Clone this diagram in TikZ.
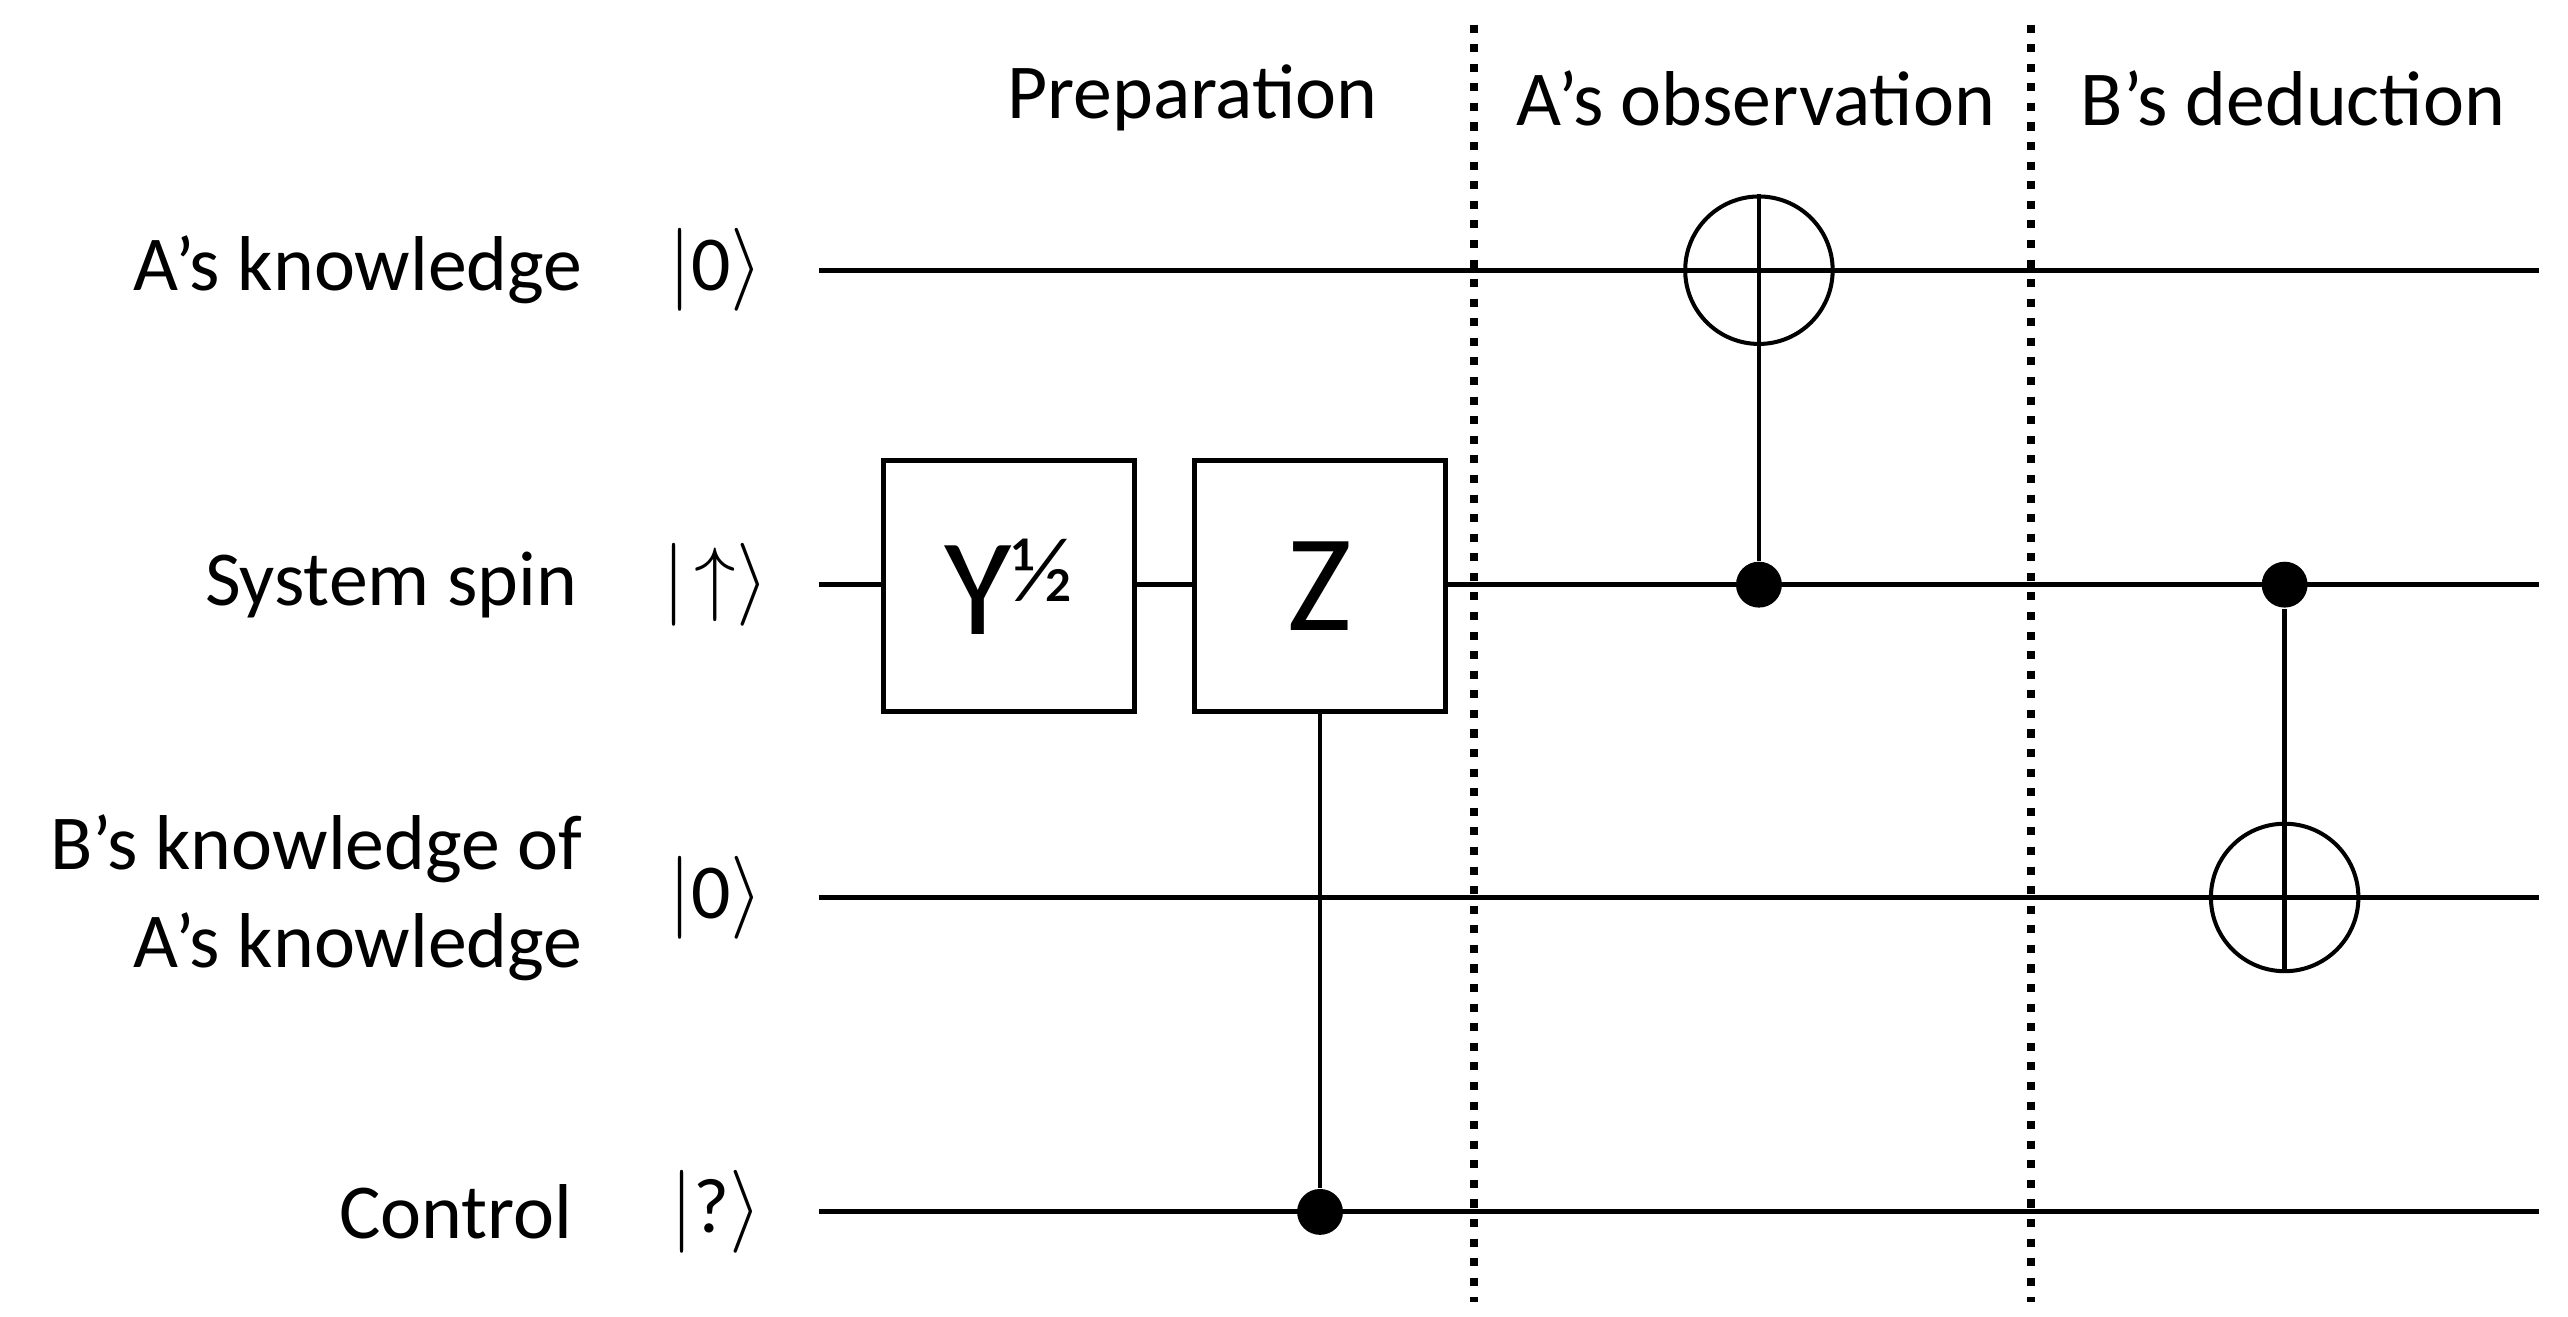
\documentclass[tikz,border=0pt]{standalone}
\usepackage{fontspec}
\setmainfont{Carlito}
\begin{document}
\begin{tikzpicture}[x=0.01cm,y=-0.01cm,
  wire/.style={line width=0.85pt},
  gate/.style={draw,line width=0.85pt,fill=white,minimum size=1.53cm,inner sep=0pt,font=\fontsize{24}{26}\selectfont},
  ctrl/.style={circle,fill=black,minimum size=0.28cm,inner sep=0pt},
  targ/.style={circle,draw,line width=0.7pt,minimum size=0.9cm,inner sep=0pt},
  lab/.style={anchor=east,font=\fontsize{13.5}{17}\selectfont,align=right},
  ket/.style={font=\fontsize{13.5}{17}\selectfont},
  head/.style={font=\fontsize{13.5}{17}\selectfont},
  sep/.style={line width=1.4pt,dotted}]
\useasboundingbox (0,0) rectangle (1568,804);
% wire ends
\foreach \n/\y in {a/165,s/357,b/548,c/740}{
  \coordinate (\n0) at (500,\y);
  \coordinate (\n1) at (1550,\y);
}
\draw[wire] (a0) -- (a1);
\draw[wire] (s0) -- (s1);
\draw[wire] (b0) -- (b1);
\draw[wire] (c0) -- (c1);
% labels
\node[lab] (la) at (368,165) {A's knowledge};
\node[lab] (ls) at (365,357) {System spin};
\node[lab] (lb) at (368,548) {B's knowledge of\\A's knowledge};
\node[lab] (lc) at (362,740) {Control};
\node[ket] (ka) at (437,165) {$|$0$\rangle$};
\node[ket] (ks) at (437,357) {$|\!\uparrow\rangle$};
\node[ket] (kb) at (437,548) {$|$0$\rangle$};
\node[ket] (kc) at (437,740) {$|$?$\rangle$};
% headers
\node[head] (h1) at (728,60) {Preparation};
\node[head] (h2) at (1072,60) {A's observation};
\node[head] (h3) at (1400,60) {B's deduction};
% separators
\coordinate (d1t) at (900,15); \coordinate (d1b) at (900,795);
\coordinate (d2t) at (1240,15); \coordinate (d2b) at (1240,795);
\draw[sep] (d1t) -- (d1b);
\draw[sep] (d2t) -- (d2b);
% preparation
\node[gate] (Y) at (616,358) {Y\raisebox{0.5ex}{\fontsize{16}{18}\selectfont ½}};
\node[gate] (Z) at (806,358) {Z};
\node[ctrl] (cz) at (806,740) {};
\draw[wire] (cz) -- (Z.south);
% A's observation
\node[targ] (ta) at (1074,165) {};
\node[ctrl] (ca) at (1074,357) {};
\draw[wire] (ca) -- (ta.north);
\draw[line width=0.7pt] (ta.west) -- (ta.east);
% B's deduction
\node[targ] (tb) at (1395,548) {};
\node[ctrl] (cb) at (1395,357) {};
\draw[wire] (cb) -- (tb.south);
\draw[line width=0.7pt] (tb.west) -- (tb.east);
\end{tikzpicture}
\end{document}
